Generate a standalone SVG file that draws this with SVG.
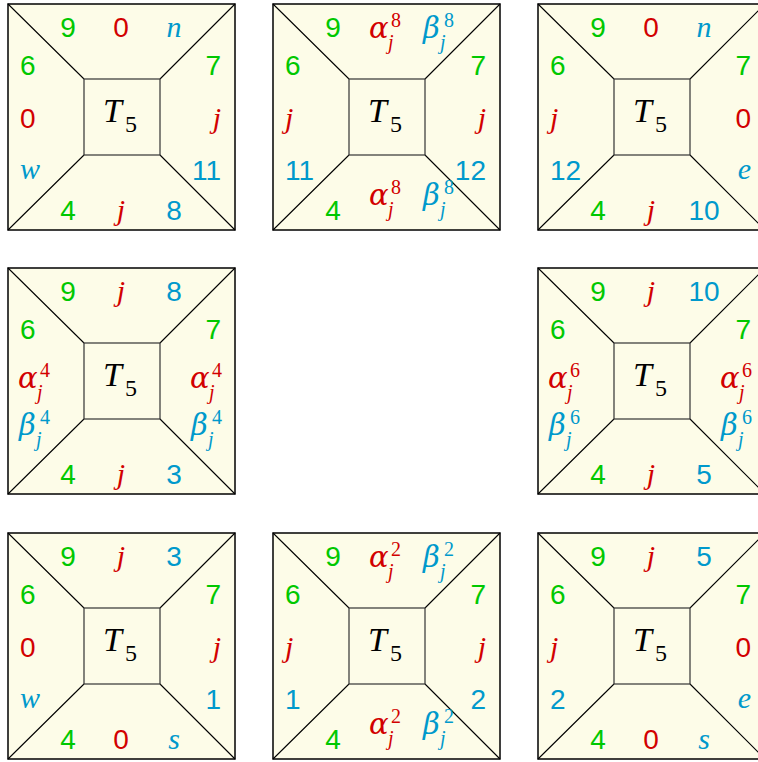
<svg xmlns="http://www.w3.org/2000/svg" xmlns:xlink="http://www.w3.org/1999/xlink" width="758" height="762" viewBox="0 0 758 762">
<style>
.frame{fill:#fdfce8;stroke:#000;stroke-width:1.5}
.ln{stroke:#000;stroke-width:1.1;fill:none}
.inner{fill:none;stroke:#333;stroke-width:1.2}
.n{font-family:"Liberation Sans",Arial,sans-serif;font-size:28px}
.it{font-family:"Liberation Serif","Times New Roman",serif;font-style:italic;font-size:30px}
.gk{font-family:"DejaVu Serif",serif;font-style:italic;font-size:29px}
.sc{font-family:"Liberation Serif","Times New Roman",serif;font-size:20px}
.sci{font-family:"Liberation Serif","Times New Roman",serif;font-style:italic;font-size:20px}
.T{font-family:"Liberation Serif","Times New Roman",serif;font-style:italic;font-size:34px;fill:#000}
.T5{font-family:"Liberation Serif","Times New Roman",serif;font-size:24px;fill:#000}
.g{fill:#00c800}.r{fill:#d20000}.b{fill:#0099cc}
.m{text-anchor:middle}.e{text-anchor:end}
</style>
<defs>
<g id="base">
<rect class="frame" x="0" y="0" width="227" height="226"/>
<path class="ln" d="M0,0L76,75M227,0L152,75M0,226L76,151M227,226L152,151"/>
<rect class="inner" x="76" y="75" width="76" height="76"/>
<text class="T" x="95" y="118">T</text><text class="T5" x="117" y="128">5</text>
</g>
</defs>

<g id="tile1" transform="translate(8,4)">
<use xlink:href="#base"/>
<text class="n g m" x="60" y="33">9</text><text class="n r m" x="113" y="33">0</text><text class="it b m" x="166" y="33">n</text>
<text class="n g" x="12" y="71">6</text><text class="n r" x="12" y="124">0</text><text class="it b" x="12" y="175">w</text>
<text class="n g e" x="213" y="71">7</text><text class="it r e" x="213" y="124">j</text><text class="n b e" x="213" y="176">11</text>
<text class="n g m" x="60" y="216">4</text><text class="it r m" x="113" y="216">j</text><text class="n b m" x="166" y="216">8</text>
</g>

<g id="tile2" transform="translate(273,4)">
<use xlink:href="#base"/>
<text class="n g m" x="60" y="33">9</text>
<g class="r" transform="translate(96,34)"><text class="gk">α</text><text class="sc" x="22" y="-11">8</text><text class="sci" x="19" y="11">j</text></g>
<g class="b" transform="translate(150,34)"><text class="gk">β</text><text class="sc" x="21" y="-11">8</text><text class="sci" x="17" y="11">j</text></g>
<text class="n g" x="12" y="71">6</text><text class="it r" x="12" y="124">j</text><text class="n b" x="12" y="176">11</text>
<text class="n g e" x="213" y="71">7</text><text class="it r e" x="213" y="124">j</text><text class="n b e" x="213" y="176">12</text>
<text class="n g m" x="60" y="216">4</text>
<g class="r" transform="translate(96,201)"><text class="gk">α</text><text class="sc" x="22" y="-11">8</text><text class="sci" x="19" y="11">j</text></g>
<g class="b" transform="translate(150,201)"><text class="gk">β</text><text class="sc" x="21" y="-11">8</text><text class="sci" x="17" y="11">j</text></g>
</g>

<g id="tile3" transform="translate(538,4)">
<use xlink:href="#base"/>
<text class="n g m" x="60" y="33">9</text><text class="n r m" x="113" y="33">0</text><text class="it b m" x="166" y="33">n</text>
<text class="n g" x="12" y="71">6</text><text class="it r" x="12" y="124">j</text><text class="n b" x="12" y="176">12</text>
<text class="n g e" x="213" y="71">7</text><text class="n r e" x="213" y="124">0</text><text class="it b e" x="213" y="175">e</text>
<text class="n g m" x="60" y="216">4</text><text class="it r m" x="113" y="216">j</text><text class="n b m" x="166" y="216">10</text>
</g>

<g id="tile4" transform="translate(8,268)">
<use xlink:href="#base"/>
<text class="n g m" x="60" y="33">9</text><text class="it r m" x="113" y="33">j</text><text class="n b m" x="166" y="33">8</text>
<text class="n g" x="12" y="71">6</text>
<g class="r" transform="translate(10,120)"><text class="gk">α</text><text class="sc" x="22" y="-11">4</text><text class="sci" x="19" y="11">j</text></g>
<g class="b" transform="translate(11,167)"><text class="gk">β</text><text class="sc" x="21" y="-11">4</text><text class="sci" x="17" y="11">j</text></g>
<text class="n g e" x="213" y="71">7</text>
<g class="r" transform="translate(182,120)"><text class="gk">α</text><text class="sc" x="22" y="-11">4</text><text class="sci" x="19" y="11">j</text></g>
<g class="b" transform="translate(183,167)"><text class="gk">β</text><text class="sc" x="21" y="-11">4</text><text class="sci" x="17" y="11">j</text></g>
<text class="n g m" x="60" y="216">4</text><text class="it r m" x="113" y="216">j</text><text class="n b m" x="166" y="216">3</text>
</g>

<g id="tile6" transform="translate(538,268)">
<use xlink:href="#base"/>
<text class="n g m" x="60" y="33">9</text><text class="it r m" x="113" y="33">j</text><text class="n b m" x="166" y="33">10</text>
<text class="n g" x="12" y="71">6</text>
<g class="r" transform="translate(10,120)"><text class="gk">α</text><text class="sc" x="22" y="-11">6</text><text class="sci" x="19" y="11">j</text></g>
<g class="b" transform="translate(11,167)"><text class="gk">β</text><text class="sc" x="21" y="-11">6</text><text class="sci" x="17" y="11">j</text></g>
<text class="n g e" x="213" y="71">7</text>
<g class="r" transform="translate(182,120)"><text class="gk">α</text><text class="sc" x="22" y="-11">6</text><text class="sci" x="19" y="11">j</text></g>
<g class="b" transform="translate(183,167)"><text class="gk">β</text><text class="sc" x="21" y="-11">6</text><text class="sci" x="17" y="11">j</text></g>
<text class="n g m" x="60" y="216">4</text><text class="it r m" x="113" y="216">j</text><text class="n b m" x="166" y="216">5</text>
</g>

<g id="tile7" transform="translate(8,533)">
<use xlink:href="#base"/>
<text class="n g m" x="60" y="33">9</text><text class="it r m" x="113" y="33">j</text><text class="n b m" x="166" y="33">3</text>
<text class="n g" x="12" y="71">6</text><text class="n r" x="12" y="124">0</text><text class="it b" x="12" y="175">w</text>
<text class="n g e" x="213" y="71">7</text><text class="it r e" x="213" y="124">j</text><text class="n b e" x="213" y="176">1</text>
<text class="n g m" x="60" y="216">4</text><text class="n r m" x="113" y="216">0</text><text class="it b m" x="166" y="216">s</text>
</g>

<g id="tile8" transform="translate(273,533)">
<use xlink:href="#base"/>
<text class="n g m" x="60" y="33">9</text>
<g class="r" transform="translate(96,34)"><text class="gk">α</text><text class="sc" x="22" y="-11">2</text><text class="sci" x="19" y="11">j</text></g>
<g class="b" transform="translate(150,34)"><text class="gk">β</text><text class="sc" x="21" y="-11">2</text><text class="sci" x="17" y="11">j</text></g>
<text class="n g" x="12" y="71">6</text><text class="it r" x="12" y="124">j</text><text class="n b" x="12" y="176">1</text>
<text class="n g e" x="213" y="71">7</text><text class="it r e" x="213" y="124">j</text><text class="n b e" x="213" y="176">2</text>
<text class="n g m" x="60" y="216">4</text>
<g class="r" transform="translate(96,201)"><text class="gk">α</text><text class="sc" x="22" y="-11">2</text><text class="sci" x="19" y="11">j</text></g>
<g class="b" transform="translate(150,201)"><text class="gk">β</text><text class="sc" x="21" y="-11">2</text><text class="sci" x="17" y="11">j</text></g>
</g>

<g id="tile9" transform="translate(538,533)">
<use xlink:href="#base"/>
<text class="n g m" x="60" y="33">9</text><text class="it r m" x="113" y="33">j</text><text class="n b m" x="166" y="33">5</text>
<text class="n g" x="12" y="71">6</text><text class="it r" x="12" y="124">j</text><text class="n b" x="12" y="176">2</text>
<text class="n g e" x="213" y="71">7</text><text class="n r e" x="213" y="124">0</text><text class="it b e" x="213" y="175">e</text>
<text class="n g m" x="60" y="216">4</text><text class="n r m" x="113" y="216">0</text><text class="it b m" x="166" y="216">s</text>
</g>
</svg>
